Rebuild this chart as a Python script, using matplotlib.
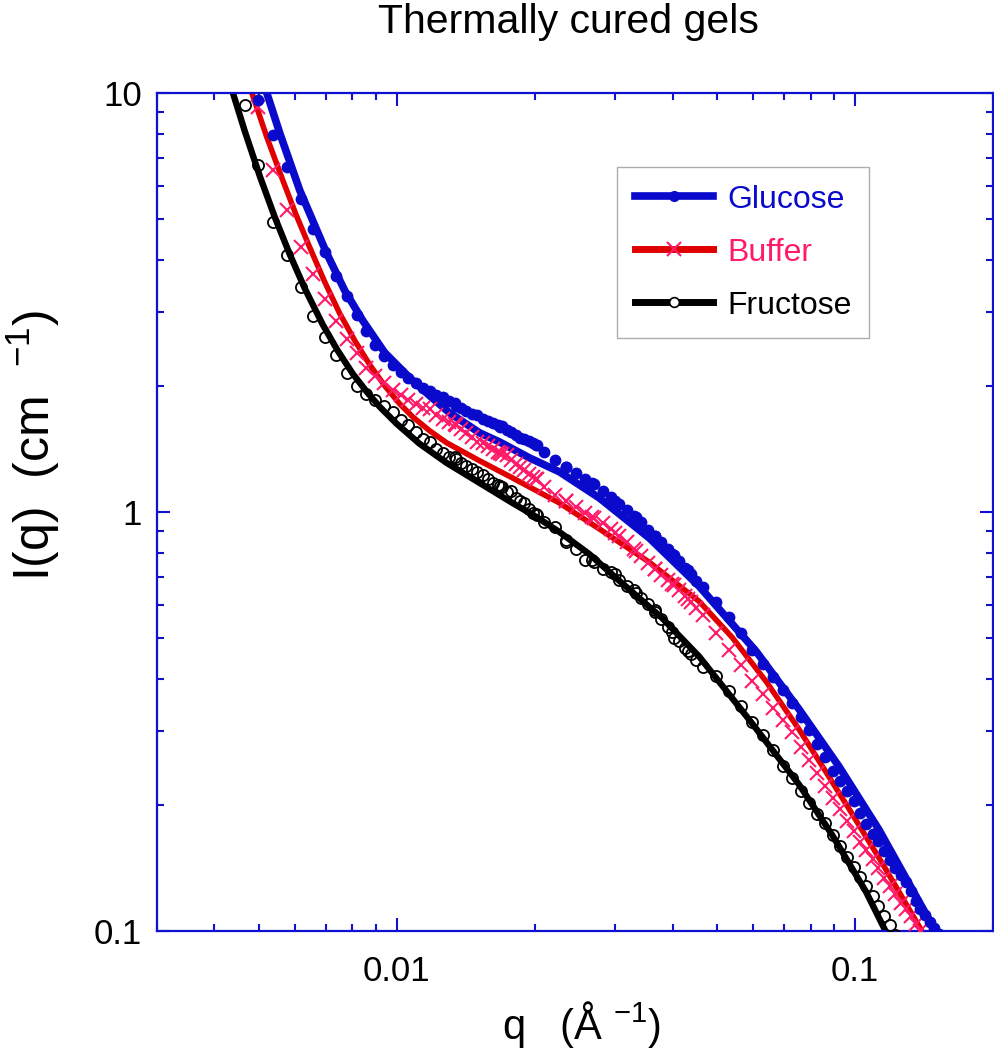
import matplotlib
matplotlib.use("Agg")
import matplotlib.pyplot as plt
from matplotlib.lines import Line2D
from matplotlib.ticker import FuncFormatter, NullFormatter, LogLocator
import numpy as np

plt.rcParams['font.family'] = ['Liberation Sans', 'DejaVu Sans']
plt.rcParams['mathtext.fontset'] = 'custom'
plt.rcParams['mathtext.rm'] = 'Liberation Sans'
plt.rcParams['mathtext.default'] = 'regular'

# ---------------- data ----------------
title = "Thermally cured gels"
series_names = ["Glucose", "Buffer", "Fructose"]

# measured q grids (A^-1)
q_low = [0.00467, 0.00499, 0.00537, 0.00576, 0.00617, 0.00657, 0.00697, 0.00737, 0.00778, 0.00819,
         0.00859, 0.00899, 0.00940, 0.00981, 0.0102, 0.0106, 0.0110, 0.0114, 0.0118, 0.0122,
         0.0126, 0.0130, 0.0134, 0.0138, 0.0142, 0.0146, 0.0150, 0.0154, 0.0158, 0.0162,
         0.0166, 0.0170, 0.0174, 0.0178, 0.0182, 0.0186, 0.0190, 0.0194, 0.0198, 0.0202]
q_mid = [0.0210, 0.0222, 0.0234, 0.0246, 0.0258, 0.0270, 0.0282, 0.0294, 0.0306, 0.0318,
         0.0330, 0.0342, 0.0354, 0.0366, 0.0378, 0.0390, 0.0402, 0.0414, 0.0426, 0.0438, 0.0450]
q_high = [0.0135, 0.0168, 0.0201, 0.0234, 0.0267, 0.0300, 0.0333, 0.0366, 0.0399, 0.0432,
          0.0465, 0.0498, 0.0531, 0.0564, 0.0597, 0.0630, 0.0663, 0.0696, 0.0729, 0.0762,
          0.0795, 0.0828, 0.0861, 0.0894, 0.0927, 0.0960, 0.0993, 0.1026, 0.1059, 0.1092,
          0.1125, 0.1158, 0.1191, 0.1224, 0.1257, 0.1290, 0.1323, 0.1356, 0.1389, 0.1422,
          0.1455, 0.1488, 0.1521]

# Glucose data (starts at q_low[1])
glu_low = [9.62, 7.94, 6.65, 5.58, 4.73, 4.17, 3.65, 3.27, 2.96, 2.71,
           2.51, 2.36, 2.247, 2.163, 2.092, 2.035, 1.98, 1.948, 1.90, 1.884,
           1.843, 1.82, 1.774, 1.745, 1.716, 1.70, 1.669, 1.651, 1.633, 1.615,
           1.60, 1.571, 1.554, 1.529, 1.50, 1.495, 1.479, 1.463, 1.447]
glu_mid = [1.392, 1.332, 1.281, 1.240, 1.199, 1.167, 1.123, 1.086, 1.045, 1.011,
           0.978, 0.946, 0.906, 0.876, 0.848, 0.816, 0.789, 0.763, 0.735, 0.711, 0.684]
glu_high = [1.793, 1.597, 1.447, 1.281, 1.173, 1.063, 0.973, 0.876, 0.793, 0.726,
            0.662, 0.609, 0.561, 0.514, 0.468, 0.433, 0.403, 0.375, 0.351, 0.325,
            0.301, 0.280, 0.2608, 0.2414, 0.2285, 0.2163, 0.2047, 0.1916, 0.1803, 0.1706,
            0.1642, 0.1554, 0.1479, 0.1415, 0.1361, 0.1310, 0.1246, 0.1179, 0.1129, 0.1092,
            0.1051, 0.1017, 0.0984]

# Buffer data (starts at q_low[1])
buf_low = [9.26, 6.54, 5.25, 4.28, 3.69, 3.23, 2.86, 2.59, 2.39, 2.21,
           2.11, 2.03, 1.958, 1.905, 1.853, 1.813, 1.774, 1.76, 1.707, 1.669,
           1.642, 1.62, 1.58, 1.545, 1.512, 1.47, 1.463, 1.438, 1.415, 1.392,
           1.377, 1.37, 1.332, 1.303, 1.281, 1.26, 1.233, 1.213, 1.199]
buf_mid = [1.148, 1.098, 1.063, 1.028, 0.995, 0.968, 0.941, 0.911, 0.876, 0.848,
           0.816, 0.785, 0.755, 0.731, 0.707, 0.688, 0.669, 0.651, 0.63, 0.609, 0.589]
buf_high = [1.615, 1.384, 1.199, 1.063, 0.973, 0.891, 0.807, 0.731, 0.673, 0.619,
            0.567, 0.514, 0.468, 0.4305, 0.396, 0.367, 0.3415, 0.318, 0.2977, 0.2755,
            0.2565, 0.2388, 0.2223, 0.208, 0.1958, 0.1833, 0.1735, 0.1633, 0.1563, 0.1487,
            0.1415, 0.1339, 0.1281, 0.1226, 0.1167, 0.1129, 0.1086, 0.1039, 0.1000]

# Fructose data (starts at q_low[0])
fru_low = [9.36, 6.73, 4.91, 4.10, 3.44, 2.94, 2.61, 2.37, 2.15, 2.00,
           1.915, 1.853, 1.793, 1.73, 1.66, 1.615, 1.554, 1.49, 1.47, 1.415,
           1.384, 1.354, 1.35, 1.31, 1.288, 1.27, 1.246, 1.226, 1.199, 1.17,
           1.16, 1.148, 1.116, 1.12, 1.080, 1.063, 1.05, 1.017, 0.995, 0.984]
fru_mid = [0.946, 0.92, 0.857, 0.816, 0.77, 0.759, 0.731, 0.72, 0.688, 0.665,
           0.65, 0.623, 0.602, 0.585, 0.555, 0.531, 0.50, 0.491, 0.473, 0.4575, 0.4425]
fru_high = [1.34, 1.154, 0.989, 0.85, 0.768, 0.71, 0.640, 0.576, 0.516, 0.465,
            0.426, 0.405, 0.373, 0.345, 0.316, 0.293, 0.271, 0.247, 0.232, 0.216,
            0.2024, 0.1906, 0.181, 0.1697, 0.1597, 0.1503, 0.1422, 0.1346, 0.1281, 0.1213,
            0.1148, 0.1086, 0.1033, 0.0978]

# model fits
fit_glu_q = [0.005208, 0.005559, 0.006145, 0.007039, 0.0077, 0.008432, 0.009416, 0.01067, 0.0118,
             0.01304, 0.01517, 0.01676, 0.0195, 0.02265, 0.02769, 0.03557, 0.0457, 0.06084,
             0.07551, 0.09229, 0.1128, 0.1501]
fit_glu_I = [10.0, 8.02, 5.86, 4.14, 3.38, 2.864, 2.401, 2.092, 1.895,
             1.725, 1.545, 1.47, 1.346, 1.247, 1.080, 0.867, 0.665, 0.465,
             0.338, 0.2468, 0.1744, 0.0995]
fit_buf_q = [0.004832, 0.005208, 0.005644, 0.006025, 0.006462, 0.006968, 0.007512, 0.00810, 0.008733,
             0.009416, 0.01015, 0.01083, 0.0118, 0.01285, 0.01517, 0.01789, 0.02265, 0.02769,
             0.03557, 0.0457, 0.05395, 0.06398, 0.07551, 0.08474, 0.097, 0.1145, 0.1358, 0.145]
fit_buf_I = [10.0, 7.85, 6.19, 5.14, 4.28, 3.54, 2.977, 2.566, 2.247,
             2.001, 1.813, 1.688, 1.563, 1.463, 1.325, 1.206, 1.051, 0.911,
             0.759, 0.612, 0.502, 0.394, 0.3027, 0.248, 0.1958, 0.1455, 0.1057, 0.0935]
fit_fru_q = [0.004393, 0.004662, 0.005029, 0.005423, 0.005845, 0.0063, 0.006899, 0.007437, 0.008018,
             0.008602, 0.009183, 0.01, 0.01122, 0.01285, 0.01517, 0.01789, 0.02018, 0.02265,
             0.02634, 0.03015, 0.03797, 0.0457, 0.05874, 0.07551, 0.0891, 0.1057, 0.1168]
fit_fru_I = [10.0, 8.11, 6.33, 5.05, 4.12, 3.42, 2.80, 2.427, 2.139,
             1.937, 1.783, 1.624, 1.455, 1.310, 1.173, 1.051, 0.973, 0.896,
             0.793, 0.695, 0.558, 0.452, 0.3196, 0.2235, 0.1697, 0.124, 0.0995]

# ---------------- styles ----------------
BLUE = '#0A0ACD'
RED = '#E00000'
PINK = '#FF1A6A'
BLACK = '#000000'
AXC = '#1010D0'

fig = plt.figure(figsize=(9.95, 10.5), dpi=100)
ax = fig.add_axes([157/995, 1 - 931/1050, 836/995, 838/1050])
ax.set_xscale('log')
ax.set_yscale('log')
ax.set_xlim(0.003, 0.2)
ax.set_ylim(0.1, 10)

def qs(offset, low, mid, high):
    return (q_low[offset:offset + len(low)] + q_mid[:len(mid)] + q_high[:len(high)],
            low + mid + high)

# fit lines
ax.plot(fit_fru_q, fit_fru_I, color=BLACK, lw=4.6, zorder=2, solid_joinstyle='round')
ax.plot(fit_buf_q, fit_buf_I, color=RED, lw=4.0, zorder=2, solid_joinstyle='round')
ax.plot(fit_glu_q, fit_glu_I, color=BLUE, lw=5.5, zorder=2, solid_joinstyle='round')

# data markers
qf, If = qs(0, fru_low, fru_mid, fru_high)
ax.plot(qf, If, ls='none', marker='o', ms=8, mfc='none', mec=BLACK, mew=1.3, zorder=3)
qb, Ib = qs(1, buf_low, buf_mid, buf_high)
ax.plot(qb, Ib, ls='none', marker='x', ms=10, mec=PINK, mew=1.5, zorder=3)
qg, Ig = qs(1, glu_low, glu_mid, glu_high)
ax.plot(qg, Ig, ls='none', marker='o', ms=8.5, mfc=BLUE, mec=BLUE, mew=0, zorder=3)

# axes styling
for s in ax.spines.values():
    s.set_color(AXC)
    s.set_linewidth(1.6)
ax.tick_params(which='both', direction='in', top=True, right=True, color=AXC, width=1.5,
               labelcolor='black', labelsize=25)
ax.tick_params(which='major', length=9.5)
ax.tick_params(which='minor', length=4.8)
ax.tick_params(axis='x', which='both', pad=17)
ax.tick_params(axis='y', which='both', pad=11)
ax.xaxis.set_major_locator(LogLocator(base=10, numticks=10))
ax.xaxis.set_minor_locator(LogLocator(base=10, subs=np.arange(2, 10), numticks=20))
ax.yaxis.set_major_locator(LogLocator(base=10, numticks=10))
ax.yaxis.set_minor_locator(LogLocator(base=10, subs=np.arange(2, 10), numticks=20))
fmt = FuncFormatter(lambda v, p: '%g' % v)
ax.xaxis.set_major_formatter(fmt)
ax.yaxis.set_major_formatter(fmt)
ax.xaxis.set_minor_formatter(NullFormatter())
ax.yaxis.set_minor_formatter(NullFormatter())

# labels
fig.text(568/995, 1 - 33/1050, title, ha='center', va='baseline', fontsize=29.5)
ax.set_xlabel('q   (Å $^{-1}$)', fontsize=30, va='baseline')
ax.xaxis.set_label_coords((582 - 157) / 836, (931 - 1039) / 838)
ax.set_ylabel('I(q)  (cm  $^{-1}$)', fontsize=36, va='center', ha='center')
ax.yaxis.set_label_coords((33 - 157) / 836, (931 - 445) / 838)

# legend
handles = [
    Line2D([], [], color=BLUE, lw=5.5, marker='o', ms=7, mfc=BLUE, mec=BLUE),
    Line2D([], [], color=RED, lw=5.0, marker='x', ms=10, mec=PINK, mew=1.5),
    Line2D([], [], color=BLACK, lw=5.0, marker='o', ms=7, mfc='white', mec=BLACK, mew=1.2),
]
leg = ax.legend(handles, series_names, loc='upper left',
                bbox_to_anchor=((617 - 157) / 836, (931 - 167) / 838),
                borderaxespad=0, fontsize=23, frameon=True, fancybox=False,
                borderpad=0.55, handlelength=2.47, handletextpad=0.42, labelspacing=0.72,
                numpoints=1)
leg.get_frame().set_edgecolor('#999999')
leg.get_frame().set_linewidth(1.0)
for t, c in zip(leg.get_texts(), [BLUE, PINK, BLACK]):
    t.set_color(c)

fig.savefig('out.png', dpi=100)
